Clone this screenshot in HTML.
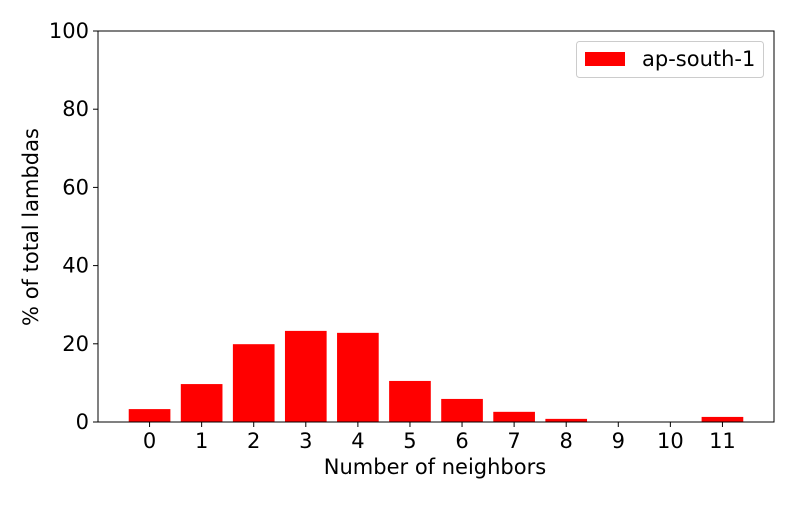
<!DOCTYPE html>
<html><head><meta charset="utf-8"><style>
body{margin:0;background:#fff;}
svg text{font-family:"DejaVu Sans","Liberation Sans",sans-serif;fill:#000;}
</style></head><body>
<svg width="800" height="500" viewBox="0 0 800 500">
<g id="bars"></g>
<g id="axes"></g>
<text x="435" y="474" font-size="21" text-anchor="middle">Number of neighbors</text>
<text transform="translate(38,227) rotate(-90)" font-size="21" text-anchor="middle">% of total lambdas</text>
<g>
<rect x="576.5" y="41.5" width="187" height="36" rx="3" fill="#fff" stroke="#ccc"/>
<rect x="585" y="52" width="40" height="14" fill="#ff0000"/>
<text x="642" y="66" font-size="21">ap-south-1</text>
</g>
</svg>
<script>
const categories=[0,1,2,3,4,5,6,7,8,9,10,11];
const values=[3.3,9.7,19.9,23.3,22.8,10.5,5.9,2.6,0.8,0,0,1.3];
const yTicks=[0,20,40,60,80,100];
const NS="http://www.w3.org/2000/svg";
const L=98,R=774,T=31,B=422;
const xmin=-0.99,xmax=11.99;
const x=v=>L+(v-xmin)/(xmax-xmin)*(R-L);
const y=v=>B-(v/100)*(B-T);
function mk(tag,attrs,parent){const e=document.createElementNS(NS,tag);for(const k in attrs)e.setAttribute(k,attrs[k]);parent.appendChild(e);return e;}
const bars=document.getElementById('bars'),axes=document.getElementById('axes');
const bw=0.8*(R-L)/(xmax-xmin);
categories.forEach((c,i)=>{
  const r=mk('rect',{x:x(c)-bw/2,y:y(values[i]),width:bw,height:B-y(values[i]),fill:'#ff0000'},bars);
  
  
  const t=mk('line',{x1:x(c),x2:x(c),y1:B,y2:B+5,stroke:'#000','stroke-width':1},axes);
  
  
  const lb=mk('text',{x:x(c),y:B+26,'font-size':21,'text-anchor':'middle'},axes);
  lb.textContent=c;
  
  
});
yTicks.forEach(v=>{
  const t=mk('line',{x1:L-5,x2:L,y1:y(v),y2:y(v),stroke:'#000','stroke-width':1},axes);
  
  
  const lb=mk('text',{x:L-9,y:y(v)+7,'font-size':21,'text-anchor':'end'},axes);
  lb.textContent=v;
  
  
});
const f=mk('rect',{x:L,y:T,width:R-L,height:B-T,fill:'none',stroke:'#000','stroke-width':1},axes);


</script>
</body></html>
